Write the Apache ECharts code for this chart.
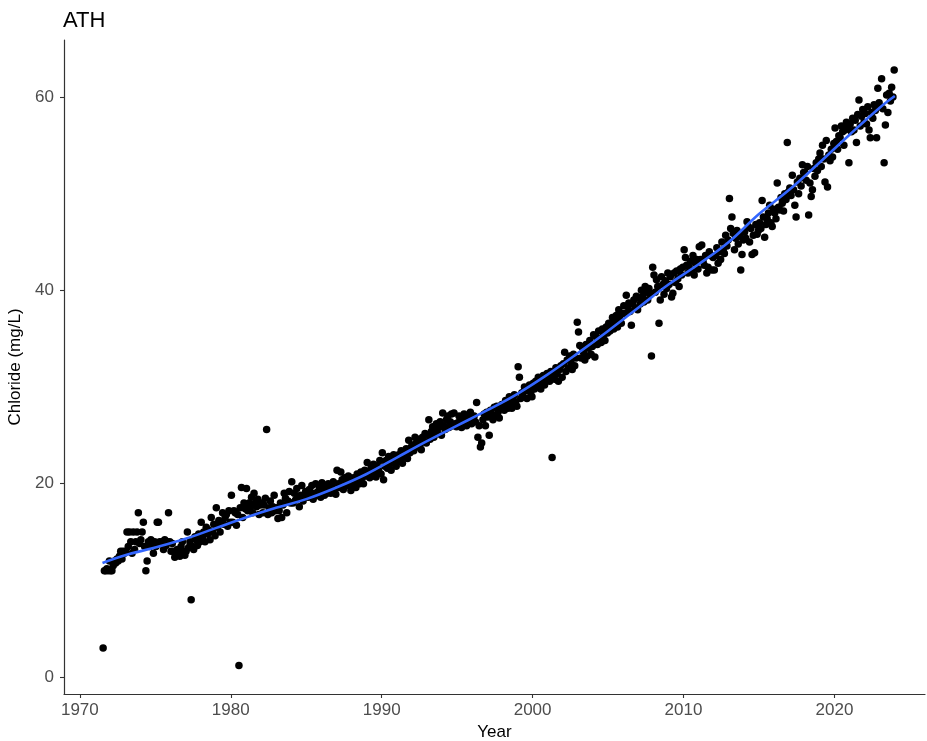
<!DOCTYPE html>
<html>
<head>
<meta charset="utf-8">
<script src="https://cdn.jsdelivr.net/npm/echarts@6/dist/echarts.min.js"></script>
<style>
  html, body { margin: 0; padding: 0; background: #fff; }
  #chart { width: 927px; height: 741px; }
</style>
</head>
<body>
<div id="chart"></div>
<script>
// Monthly chloride samples (mg/L), one row per year, Jan..Dec (null = no sample)
const years = [1971,1972,1973,1974,1975,1976,1977,1978,1979,1980,1981,1982,1983,1984,1985,1986,1987,1988,1989,1990,1991,1992,1993,1994,1995,1996,1997,1998,1999,2000,2001,2002,2003,2004,2005,2006,2007,2008,2009,2010,2011,2012,2013,2014,2015,2016,2017,2018,2019,2020,2021,2022,2023];
const monthly = [
  [null,null,null,null,null,null, 3.0, 11.0, 11.0, 11.2, 11.0, 12.0],
  [11.0, 11.0, 11.5, 12.0, 11.8, 12.2, 12.0, 12.5, 13.0, 12.2, 13.0, 12.8],
  [13.0, 15.0, 13.5, 15.0, 14.0, 12.8, 15.0, 13.2, 14.0, 15.0, 17.0, 13.8],
  [14.2, 15.0, 16.0, 13.5, 11.0, 12.0, 14.0, 13.5, 14.2, 13.8, 12.8, 14.0],
  [13.5, 16.0, 16.0, 14.0, 13.8, 14.0, 13.2, 14.2, 13.6, 14.0, 17.0, 14.0],
  [13.0, 13.8, 13.0, 12.4, 12.8, 13.2, 13.0, 12.5, 13.5, 14.0, 13.0, 12.6],
  [13.0, 15.0, 13.4, 14.0, 8.0, 13.5, 13.2, 14.5, 14.2, 13.6, 14.8, 14.0],
  [16.0, 14.5, 15.0, 14.0, 15.5, 14.8, 15.2, 14.2, 16.5, 15.0, 15.8, 14.6],
  [17.5, 15.5, 16.2, 15.0, 16.0, 17.0, 15.8, 16.5, 16.8, 15.6, 17.2, 16.0],
  [18.8, 16.0, 17.2, 17.0, 15.7, 16.8, 1.2, 17.5, 19.6, 16.5, 18.0, 17.4],
  [19.5, 17.2, 18.0, 17.5, 18.6, 17.0, 19.0, 18.0, 17.6, 18.4, 16.8, 17.8],
  [18.0, 17.0, 17.8, 18.5, 25.6, 16.8, 17.5, 18.2, 17.0, 17.6, 18.8, 17.2],
  [17.5, 16.4, 17.2, 18.0, 16.5, 17.8, 19.0, 18.5, 17.0, 18.2, 19.2, 18.0],
  [20.2, 18.0, 19.0, 18.3, 19.5, 18.6, 17.6, 18.8, 19.8, 18.2, 18.6, 19.2],
  [19.0, 18.6, 19.4, 18.8, 19.8, 18.4, 19.0, 20.0, 18.8, 19.2, 19.6, 18.6],
  [20.1, 19.2, 18.8, 19.6, 19.0, 20.0, 19.4, 19.0, 19.8, 20.2, 19.2, 18.9],
  [21.4, 20.0, 19.6, 21.2, 20.4, 19.4, 20.6, 20.0, 19.8, 20.8, 20.4, 19.3],
  [19.7, 20.6, 20.2, 19.6, 21.0, 20.4, 20.0, 21.2, 20.6, 20.0, 21.4, 20.8],
  [22.2, 21.0, 20.6, 21.6, 20.8, 22.0, 21.2, 20.7, 21.8, 21.4, 22.4, 21.0],
  [23.2, 20.4, 21.8, 22.4, 21.6, 22.8, 22.0, 21.4, 22.6, 23.0, 22.2, 21.8],
  [22.4, 23.0, 22.6, 23.4, 22.1, 23.2, 22.8, 23.6, 22.6, 24.5, 23.2, 23.8],
  [24.0, 23.4, 24.8, 24.2, 23.8, 24.6, 24.0, 23.5, 24.8, 24.4, 25.2, 24.2],
  [25.0, 26.6, 24.6, 25.4, 25.9, 24.8, 25.6, 26.2, 25.2, 25.8, 26.4, 25.0],
  [27.3, 26.0, 25.6, 26.6, 27.0, 25.8, 26.4, 27.2, 26.0, 27.3, 26.2, 25.9],
  [26.3, 27.0, 26.6, 25.8, 26.8, 27.2, 26.4, 26.0, 27.0, 26.6, 27.4, 26.2],
  [26.8, 27.0, 26.4, 28.4, 24.8, 26.0, 23.8, 24.2, 26.6, 27.2, 26.0, 27.4],
  [26.9, 25.0, 27.6, 27.2, 26.6, 27.9, 27.0, 28.0, 27.4, 26.8, 27.8, 28.2],
  [28.0, 27.6, 28.6, 28.2, 27.8, 29.0, 28.4, 27.8, 28.8, 29.2, 28.4, 28.0],
  [32.1, 31.0, 28.8, 29.4, 29.0, 30.0, 29.6, 28.8, 29.8, 30.2, 29.4, 29.0],
  [30.4, 29.8, 30.6, 30.0, 31.0, 30.4, 29.8, 30.8, 31.2, 30.2, 30.6, 31.4],
  [31.0, 30.6, 31.6, 22.7, 31.2, 30.8, 32.0, 31.4, 30.6, 31.8, 32.2, 31.0],
  [32.4, 33.6, 31.6, 32.8, 32.0, 33.2, 32.6, 31.8, 33.4, 32.2, 33.0, 36.7],
  [35.7, 34.3, 33.0, 34.1, 33.6, 32.8, 34.4, 33.2, 34.0, 34.8, 33.4, 34.2],
  [35.4, 33.1, 35.2, 34.4, 35.8, 35.0, 34.6, 36.0, 35.4, 34.8, 36.2, 35.6],
  [36.6, 35.8, 36.4, 37.2, 36.0, 36.8, 37.4, 36.2, 38.0, 37.0, 36.6, 37.6],
  [38.4, 37.6, 39.5, 38.3, 38.7, 37.8, 36.4, 38.6, 39.0, 38.2, 39.4, 38.0],
  [39.2, 38.6, 40.0, 39.4, 38.8, 40.4, 39.8, 39.0, 40.2, 39.6, 33.2, 42.4],
  [41.6, 39.8, 41.1, 40.4, 36.6, 39.0, 41.4, 40.6, 39.6, 41.0, 40.2, 41.8],
  [40.6, 41.4, 39.3, 39.7, 41.8, 40.8, 42.0, 41.2, 40.4, 42.2, 41.6, 42.4],
  [44.2, 43.4, 42.6, 41.8, 42.4, 43.0, 42.0, 43.6, 41.6, 42.8, 43.2, 42.2],
  [44.5, 43.2, 44.7, 43.0, 42.6, 43.6, 41.8, 42.4, 44.0, 43.6, 42.1, 43.4],
  [42.1, 43.6, 44.4, 42.8, 44.0, 43.2, 45.0, 44.2, 43.8, 45.7, 44.6, 45.2],
  [49.5, 46.4, 47.6, 45.9, 44.2, 45.4, 46.2, 44.8, 45.6, 42.1, 43.7, 45.2],
  [46.0, 45.4, 47.1, 46.6, 45.0, 46.4, 43.7, 45.7, 43.9, 46.8, 45.8, 46.2],
  [47.0, 46.4, 49.3, 47.6, 45.5, 46.8, 47.4, 48.0, 48.8, 47.0, 46.6, 48.4],
  [48.0, 47.4, 51.1, 48.6, 48.3, 49.6, 49.0, 48.2, 50.0, 49.4, 55.3, 50.2],
  [50.6, 49.8, 51.9, 50.4, 48.8, 47.6, 51.2, 50.0, 51.6, 50.8, 53.0, 52.2],
  [52.2, 51.4, 52.8, 47.8, 51.1, 49.7, 50.4, 52.6, 51.8, 53.2, 52.4, 53.6],
  [54.2, 52.8, 55.0, 53.6, 51.2, 55.5, 50.7, 54.0, 53.4, 54.6, 53.8, 55.2],
  [56.8, 55.4, 54.6, 56.0, 55.8, 57.0, 56.4, 55.0, 56.6, 57.4, 56.9, 53.2],
  [57.2, 56.4, 57.8, 56.6, 57.6, 55.3, 58.2, 59.7, 57.0, 58.0, 58.7, 57.4],
  [58.3, 57.2, 59.0, 56.6, 55.8, 58.4, 57.8, 59.2, 58.6, 55.8, 60.9, 59.4],
  [59.0, 61.9, 58.8, 53.2, 57.1, 60.2, 58.4, 60.4, 59.6, 61.0, 60.0, 62.8]
];

// Smoothed (loess) trend
const fitYears  = [1971.5, 1973, 1975, 1977, 1979, 1981, 1983, 1985, 1987, 1989, 1991, 1993, 1995, 1997, 1999, 2001, 2003, 2005, 2007, 2009, 2011, 2013, 2015, 2017, 2019, 2021, 2023, 2024];
const fitValues = [11.8, 12.6, 13.4, 14.3, 15.4, 16.5, 17.5, 18.4, 19.6, 21.0, 22.7, 24.4, 26.0, 27.6, 29.3, 31.3, 33.5, 35.8, 38.2, 40.6, 42.7, 45.0, 47.9, 50.4, 53.2, 56.1, 58.9, 60.1];

const xTicks = [1970, 1980, 1990, 2000, 2010, 2020];
const yTicks = [0, 20, 40, 60];

const points = [];
years.forEach((yr, r) => {
  monthly[r].forEach((v, m) => {
    if (v !== null) points.push([yr + (m + 0.5) / 12, v]);
  });
});
const fitLine = fitYears.map((x, i) => [x, fitValues[i]]);

const chart = echarts.init(document.getElementById('chart'), null, { renderer: 'canvas' });
const FONT = 'Liberation Sans, Arial, sans-serif';
chart.setOption({
  animation: false,
  backgroundColor: '#ffffff',
  title: {
    text: 'ATH',
    left: 58, top: 5,
    textStyle: { fontFamily: FONT, fontSize: 22, fontWeight: 'normal', color: '#000' }
  },
  grid: { left: 64, right: 2, top: 40, bottom: 47, containLabel: false, outerBoundsMode: 'none' },
  xAxis: {
    type: 'value',
    min: 1968.95, max: 2026.0,
    name: 'Year', nameLocation: 'middle', nameGap: 30,
    nameTextStyle: { fontFamily: FONT, fontSize: 17, color: '#000' },
    axisLine: { show: true, onZero: false, lineStyle: { color: '#333', width: 1.2 } },
    axisTick: { show: true, length: 4, lineStyle: { color: '#333', width: 1.1 }, customValues: xTicks },
    axisLabel: { fontFamily: FONT, fontSize: 17, color: '#4d4d4d', margin: 8, customValues: xTicks,
      formatter: function (v) { return String(Math.round(v)); } },
    splitLine: { show: false }
  },
  yAxis: {
    type: 'value',
    min: -1.76, max: 65.9,
    name: 'Chloride (mg/L)', nameLocation: 'middle', nameGap: 38, nameRotate: 90,
    nameTextStyle: { fontFamily: FONT, fontSize: 17, color: '#000' },
    axisLine: { show: true, onZero: false, lineStyle: { color: '#333', width: 1.2 } },
    axisTick: { show: true, length: 4, lineStyle: { color: '#333', width: 1.1 }, customValues: yTicks },
    axisLabel: { fontFamily: FONT, fontSize: 17, color: '#4d4d4d', margin: 10, customValues: yTicks,
      formatter: function (v) { return String(Math.round(v)); } },
    splitLine: { show: false }
  },
  series: [
    {
      type: 'scatter',
      data: points,
      symbol: 'circle',
      symbolSize: 7.5,
      itemStyle: { color: '#000', opacity: 1 },
      emphasis: { disabled: true },
      z: 2
    },
    {
      type: 'line',
      data: fitLine,
      smooth: 0.4,
      showSymbol: false,
      lineStyle: { color: '#3366FF', width: 2.6 },
      emphasis: { disabled: true },
      z: 3
    }
  ]
});
</script>
</body>
</html>
